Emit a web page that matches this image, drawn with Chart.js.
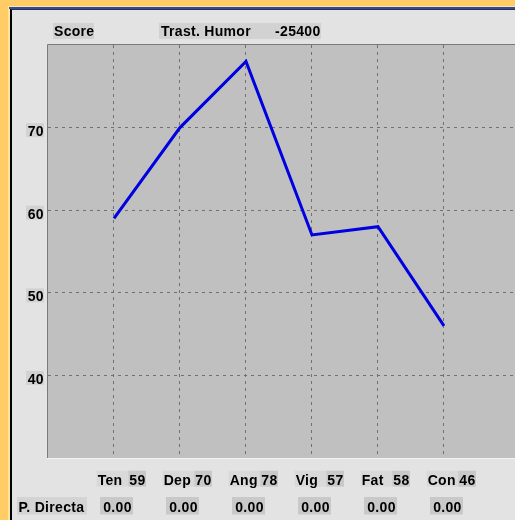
<!DOCTYPE html>
<html><head><meta charset="utf-8">
<script src="https://cdn.jsdelivr.net/npm/chart.js@4.4.0/dist/chart.umd.min.js"></script>
<style>
html,body{margin:0;padding:0;width:515px;height:520px;overflow:hidden;background:#FFCC66;}
#edge{position:absolute;left:8px;top:6px;width:507px;height:514px;background:#FFE49A;}
#blue{position:absolute;left:9px;top:7px;width:506px;height:2px;background:#2A4CB0;}
#panel{position:absolute;left:10px;top:9px;width:505px;height:511px;background:#E3E3E3;border-left:2px solid #000;border-top:1px solid #333;box-sizing:border-box;}
#wrap{position:absolute;left:0;top:0;width:515px;height:520px;}
</style></head><body>
<div id="edge"></div><div id="blue"></div><div id="panel"></div>
<div id="wrap"><canvas id="c" width="515" height="520"></canvas></div>
<script>
const categories = ['Ten', 'Dep', 'Ang', 'Vig', 'Fat', 'Con'];
const scores = [59, 70, 78, 57, 58, 46];
const directScores = [0, 0, 0, 0, 0, 0];
const yTicks = [40, 50, 60, 70];
const yTitle = 'Score';
const headerLabel = 'Trast. Humor';
const headerValue = '-25400';
const rowLabel = 'P. Directa';

const FONT = 'bold 14px "Liberation Sans", Arial, sans-serif';

function setFont(ctx) {
  ctx.font = FONT;
  ctx.fillStyle = '#000';
  try { ctx.letterSpacing = '0.3px'; } catch (e) {}
}
function box(ctx, x, y, w, h, color) {
  ctx.fillStyle = color;
  ctx.fillRect(x, y, w, h);
}
function text(ctx, t, x, y, align) {
  ctx.fillStyle = '#000';
  ctx.textAlign = align || 'left';
  ctx.textBaseline = 'alphabetic';
  ctx.fillText(t, x, y);
}

const decor = {
  id: 'decor',
  beforeDraw(chart) {
    const { ctx, chartArea: a } = chart;
    ctx.save();
    ctx.fillStyle = '#C0C0C0';
    ctx.fillRect(a.left, a.top, a.right - a.left, a.bottom - a.top);
    ctx.restore();
  },
  afterDraw(chart) {
    const { ctx, chartArea: a, scales } = chart;
    const xs = scales.x, ys = scales.y;
    ctx.save();
    ctx.strokeStyle = '#7A7A7A';
    ctx.lineWidth = 1;
    ctx.beginPath();
    ctx.moveTo(a.left - 0.5, a.bottom);
    ctx.lineTo(a.left - 0.5, a.top - 0.5);
    ctx.lineTo(a.right, a.top - 0.5);
    ctx.stroke();
    ctx.strokeStyle = '#F4F4F4';
    ctx.beginPath();
    ctx.moveTo(a.left - 1, a.bottom + 0.5);
    ctx.lineTo(a.right, a.bottom + 0.5);
    ctx.stroke();

    setFont(ctx);
    box(ctx, 53, 23, 41, 16, '#D2D2D2');
    text(ctx, yTitle, 54, 36);
    box(ctx, 159, 23, 162, 16, '#D2D2D2');
    text(ctx, headerLabel, 161, 36);
    text(ctx, headerValue, 320.5, 36, 'right');

    yTicks.forEach(v => {
      const py = ys.getPixelForValue(v);
      box(ctx, 26, py - 4.5, 18, 14, '#D2D2D2');
      text(ctx, String(v), 43.8, py + 8.5, 'right');
    });

    categories.forEach((c, i) => {
      const px = xs.getPixelForValue(i + 1);
      box(ctx, px - 17.3, 470.7, 31.6, 16, '#D9D9D9');
      box(ctx, px + 14.3, 470.7, 17.7, 16, '#C9C9C9');
      text(ctx, c, px - 16.3, 484.5);
      text(ctx, String(scores[i]), px + 31.5, 484.5, 'right');
      box(ctx, px - 14, 497, 33, 17.5, '#C9C9C9');
      text(ctx, directScores[i].toFixed(2), px + 3.5, 511.5, 'center');
    });
    box(ctx, 17, 497, 70, 17.5, '#D4D4D4');
    text(ctx, rowLabel, 18.5, 511.5);
    ctx.restore();
  }
};

const gridOpts = { color: '#707070', lineWidth: 1, drawTicks: false };
const borderOpts = { display: false, dash: [3, 4] };

new Chart(document.getElementById('c'), {
  type: 'line',
  data: {
    datasets: [{
      data: scores.map((v, i) => ({ x: i + 1, y: v })),
      borderColor: '#0000E0',
      borderWidth: 3,
      pointRadius: 0,
      tension: 0,
      fill: false,
      borderJoinStyle: 'miter'
    }]
  },
  options: {
    responsive: false,
    animation: false,
    devicePixelRatio: 1,
    layout: { padding: { top: 45, bottom: 62, left: 0, right: 0 } },
    plugins: { legend: { display: false }, tooltip: { enabled: false } },
    scales: {
      x: {
        type: 'linear', min: 0, max: 7.076,
        afterBuildTicks: s => { s.ticks = categories.map((c, i) => ({ value: i + 1 })); },
        afterFit: s => { s.height = 0; },
        ticks: { display: false },
        grid: gridOpts, border: borderOpts
      },
      y: {
        type: 'linear', min: 30, max: 80,
        afterBuildTicks: s => { s.ticks = yTicks.map(v => ({ value: v })); },
        afterFit: s => { s.width = 48; },
        ticks: { display: false },
        grid: gridOpts, border: borderOpts
      }
    }
  },
  plugins: [decor]
});
</script>
</body></html>
